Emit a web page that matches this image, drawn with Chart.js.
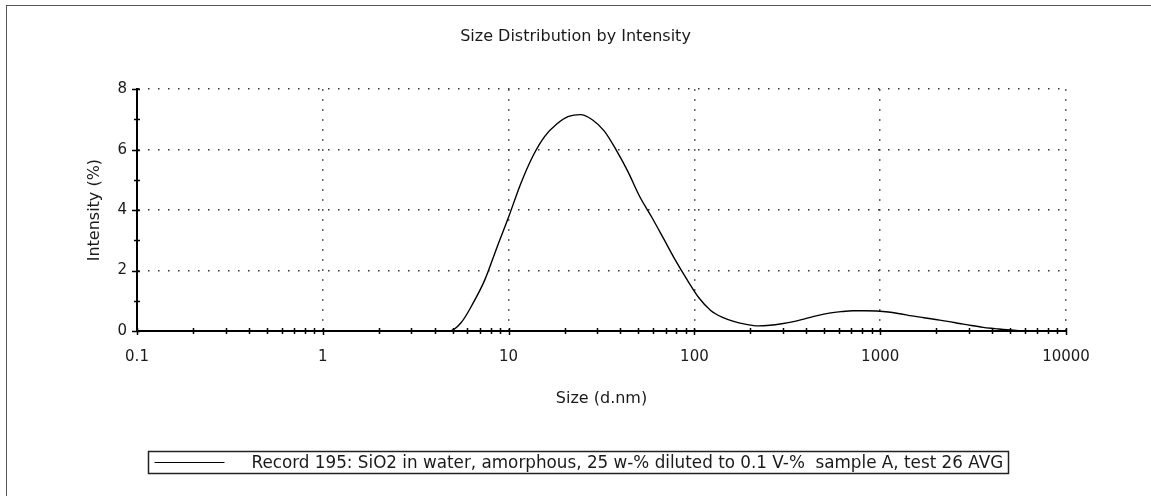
<!DOCTYPE html>
<html>
<head>
<meta charset="utf-8">
<title>Size Distribution by Intensity</title>
<script src="https://cdn.jsdelivr.net/npm/chart.js@4/dist/chart.umd.min.js"></script>
<style>
  html, body { margin: 0; padding: 0; background: #fff; }
  canvas { display: block; }
</style>
</head>
<body>
<canvas id="chart" width="1151" height="496"></canvas>
<script>
// size bins (d.nm) and intensity (%)
const sizes = [
  0.4, 4.145, 4.801, 5.56, 6.439, 7.456, 8.635, 10.0, 11.58, 13.54, 15.69,
  18.17, 21.04, 24.36, 28.21, 32.67, 37.84, 43.82, 50.75, 58.77, 68.06,
  78.82, 91.28, 105.7, 122.4, 141.8, 164.2, 190.1, 220.2, 255.0, 295.3,
  342.0, 396.1, 458.7, 531.2, 615.1, 712.4, 825.0, 955.4, 1106, 1281,
  1484, 1718, 1990, 2305, 2669, 3091, 3580, 4145, 4801, 5560, 6439, 10000
];
const intensity = [
  0, 0, 0, 0.28, 0.92, 1.7, 2.75, 3.77, 4.85, 5.8, 6.45,
  6.85, 7.1, 7.16, 6.99, 6.62, 6.0, 5.28, 4.45, 3.78, 3.07,
  2.35, 1.7, 1.1, 0.68, 0.45, 0.31, 0.22, 0.17, 0.19, 0.24,
  0.31, 0.41, 0.51, 0.59, 0.64, 0.67, 0.67, 0.66, 0.63, 0.57,
  0.5, 0.44, 0.38, 0.32, 0.25, 0.18, 0.12, 0.08, 0.04, 0.01, 0, 0
];
const seriesLabel = "Record 195: SiO2 in water, amorphous, 25 w-% diluted to 0.1 V-%  sample A, test 26 AVG";

// axis ticks
const xDecades = [0.1, 1, 10, 100, 1000];
const xMajor = [0.1, 1, 10, 100, 1000, 10000];
const yMajor = [0, 2, 4, 6, 8];

const xTickValues = [];
xDecades.forEach((d) => {
  for (let m = 1; m <= 9; m++) xTickValues.push(Number((d * m).toPrecision(3)));
});
xTickValues.push(10000);

const FONT = '"DejaVu Sans", "Liberation Sans", Arial, sans-serif';
const TEXT = "#1a1a1a";
const GRID = "#333";

// outer frame of the report panel
const framePlugin = {
  id: "frame",
  beforeDraw(chart) {
    const ctx = chart.ctx;
    ctx.save();
    ctx.fillStyle = "#fff";
    ctx.fillRect(0, 0, chart.width, chart.height);
    ctx.strokeStyle = "#555";
    ctx.lineWidth = 1;
    ctx.strokeRect(6.5, 5.5, chart.width + 20, chart.height + 20);
    ctx.restore();
  },
};

// small tick marks that cross the axis lines
const crossTicks = {
  id: "crossTicks",
  afterDraw(chart) {
    const ctx = chart.ctx;
    const x = chart.scales.x;
    const y = chart.scales.y;
    const area = chart.chartArea;
    ctx.save();
    ctx.strokeStyle = "#000";
    ctx.lineWidth = 1.5;
    ctx.beginPath();
    x.ticks.forEach((t) => {
      const px = Math.round(x.getPixelForValue(t.value)) + 0.5;
      const len = xMajor.includes(t.value) ? 4 : 3;
      ctx.moveTo(px, area.bottom - 3);
      ctx.lineTo(px, area.bottom + len);
    });
    y.ticks.forEach((t) => {
      const py = Math.round(y.getPixelForValue(t.value)) + 0.5;
      const len = yMajor.includes(t.value) ? 5 : 3;
      ctx.moveTo(area.left - len, py);
      ctx.lineTo(area.left + 3, py);
    });
    ctx.stroke();
    ctx.restore();
  },
};

// boxed legend under the plot, as in the instrument report
const legendBox = {
  id: "legendBox",
  afterDraw(chart) {
    const ctx = chart.ctx;
    const ds = chart.data.datasets[0];
    ctx.save();
    ctx.font = "16.8px " + FONT;
    const textW = ctx.measureText(ds.label).width;
    const w = Math.round(103 + textW + 5);
    const h = 22;
    const left = Math.round(chart.width / 2 + 2 - w / 2) + 0.5;
    const top = Math.round(chart.chartArea.bottom + 120) + 0.5;
    ctx.strokeStyle = "#222";
    ctx.lineWidth = 1.5;
    ctx.strokeRect(left, top, w, h);
    const mid = top + h / 2;
    ctx.strokeStyle = ds.borderColor;
    ctx.lineWidth = 1;
    ctx.beginPath();
    ctx.moveTo(left + 6, mid);
    ctx.lineTo(left + 76, mid);
    ctx.stroke();
    ctx.fillStyle = TEXT;
    ctx.textBaseline = "middle";
    ctx.fillText(ds.label, left + 103, mid + 1);
    ctx.restore();
  },
};

new Chart(document.getElementById("chart"), {
  type: "line",
  data: {
    datasets: [
      {
        label: seriesLabel,
        data: sizes.map((s, i) => ({ x: s, y: intensity[i] })),
        borderColor: "#000",
        borderWidth: 1.4,
        pointRadius: 0,
        cubicInterpolationMode: "monotone",
        fill: false,
      },
    ],
  },
  options: {
    responsive: false,
    animation: false,
    layout: { padding: { left: 85, right: 85, top: 0, bottom: 85 } },
    plugins: {
      legend: { display: false },
      tooltip: { enabled: false },
      title: {
        display: true,
        text: "Size Distribution by Intensity",
        color: TEXT,
        font: { family: FONT, size: 16, weight: "normal" },
        padding: { top: 27, bottom: 43 },
      },
    },
    scales: {
      x: {
        type: "logarithmic",
        min: 0.1,
        max: 10000,
        afterBuildTicks: (scale) => {
          scale.ticks = xTickValues.map((v) => ({ value: v, major: xMajor.includes(v) }));
        },
        afterFit: (scale) => {
          scale.height = 80;
        },
        ticks: {
          autoSkip: false,
          maxRotation: 0,
          padding: 17,
          color: TEXT,
          font: { family: FONT, size: 15 },
          callback: (value) => (xMajor.includes(value) ? String(value) : ""),
        },
        grid: {
          drawTicks: false,
          lineWidth: 1.5,
          color: (ctx) =>
            ctx.tick && xMajor.includes(ctx.tick.value) && ctx.tick.value !== 0.1 ? GRID : "transparent",
        },
        border: { display: true, color: "#000", width: 2, dash: [1.5, 8.5] },
        title: {
          display: true,
          text: "Size (d.nm)",
          color: TEXT,
          font: { family: FONT, size: 16 },
          padding: { top: 0, bottom: 3 },
        },
      },
      y: {
        min: 0,
        max: 8,
        afterFit: (scale) => {
          scale.width = 52;
        },
        ticks: {
          stepSize: 1,
          padding: 10,
          color: TEXT,
          font: { family: FONT, size: 15 },
          callback: (value) => (yMajor.includes(value) ? String(value) : ""),
        },
        grid: {
          drawTicks: false,
          lineWidth: 1.5,
          color: (ctx) =>
            ctx.tick && yMajor.includes(ctx.tick.value) && ctx.tick.value !== 0 ? GRID : "transparent",
        },
        border: { display: true, color: "#000", width: 2, dash: [1.5, 8.5] },
        title: {
          display: true,
          text: "Intensity (%)",
          color: TEXT,
          font: { family: FONT, size: 16 },
          padding: { top: 0, bottom: 0 },
        },
      },
    },
  },
  plugins: [framePlugin, crossTicks, legendBox],
});
</script>
</body>
</html>
